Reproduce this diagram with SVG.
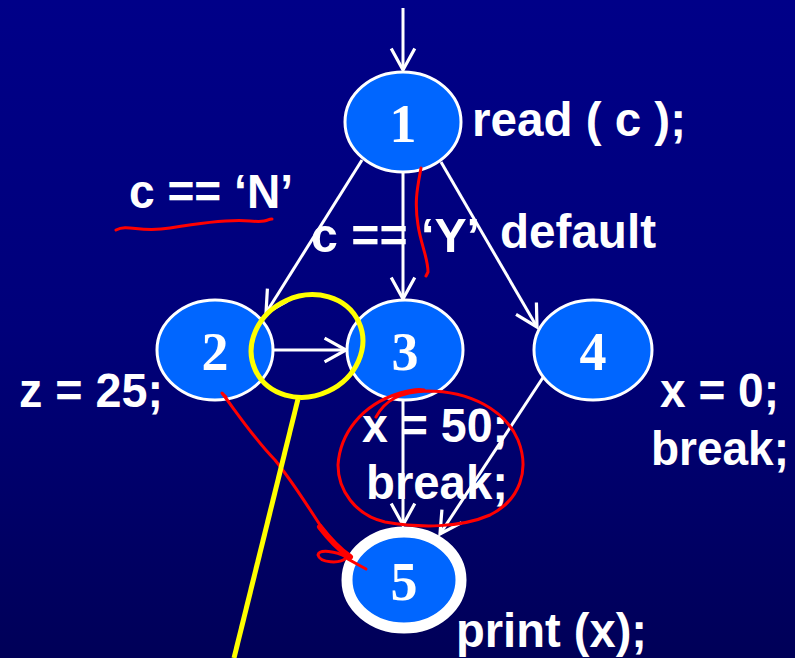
<svg xmlns="http://www.w3.org/2000/svg" width="795" height="658" viewBox="0 0 795 658">
<defs>
<linearGradient id="bg" x1="0" y1="0" x2="0" y2="1">
<stop offset="0" stop-color="#000088"/>
<stop offset="0.5" stop-color="#00007a"/>
<stop offset="1" stop-color="#000058"/>
</linearGradient>
<marker id="arr" markerUnits="userSpaceOnUse" markerWidth="30" markerHeight="30" viewBox="-24 -14 28 28" refX="0" refY="0" orient="auto">
<path d="M-20,-11 L0,0 L-20,11" fill="none" stroke="#ffffff" stroke-width="3"/>
</marker>
</defs>
<style>
.node{fill:#0066ff;stroke:#ffffff;stroke-width:3}
.node.thick{stroke-width:11}
.num{font-family:"Liberation Serif","Times New Roman",serif;font-weight:bold;font-size:54px;fill:#ffffff;text-anchor:middle}
.lbl{font-family:"Liberation Sans",Arial,sans-serif;font-weight:bold;font-size:48px;fill:#ffffff}
.edge{stroke:#ffffff;stroke-width:3;fill:none;marker-end:url(#arr)}
.red{stroke:#ff0000;stroke-width:3;fill:none;stroke-linecap:round;stroke-linejoin:round}
.yel{stroke:#ffff00;stroke-width:5;fill:none}
</style>
<rect x="0" y="0" width="795" height="658" fill="url(#bg)"/>

<g id="connectors">
<line class="edge" x1="403" y1="8" x2="403" y2="70"/>
<line class="edge" x1="362" y1="160" x2="266" y2="313"/>
<line class="edge" x1="403" y1="172" x2="403" y2="299"/>
<line class="edge" x1="441" y1="162" x2="537" y2="327"/>
<line class="edge" x1="274" y1="350" x2="346" y2="350"/>
<line class="edge" x1="403" y1="400" x2="403" y2="525"/>
<line class="edge" x1="544" y1="376" x2="440" y2="534"/>
</g>

<g id="node1">
<ellipse class="node" cx="403" cy="122" rx="58" ry="50"/>
<text class="num" x="403" y="142">1</text>
</g>
<g id="node2">
<ellipse class="node" cx="215" cy="350" rx="58" ry="50"/>
<text class="num" x="215" y="370">2</text>
</g>
<g id="node3">
<ellipse class="node" cx="405" cy="350" rx="58" ry="50"/>
<text class="num" x="405" y="370">3</text>
</g>
<g id="node4">
<ellipse class="node" cx="593" cy="350" rx="59" ry="50"/>
<text class="num" x="593" y="370">4</text>
</g>
<g id="node5">
<ellipse class="node thick" cx="404" cy="580" rx="57" ry="48"/>
<text class="num" x="404" y="600">5</text>
</g>

<g id="labels">
<text class="lbl" x="472" y="136" textLength="214" lengthAdjust="spacingAndGlyphs">read ( c );</text>
<text class="lbl" x="129" y="208" textLength="164" lengthAdjust="spacingAndGlyphs">c == ‘N’</text>
<text class="lbl" x="311" y="252" textLength="169" lengthAdjust="spacingAndGlyphs">c == ‘Y’</text>
<text class="lbl" x="500" y="248" textLength="156" lengthAdjust="spacingAndGlyphs">default</text>
<text class="lbl" x="19" y="407" textLength="144" lengthAdjust="spacingAndGlyphs">z = 25;</text>
<text class="lbl" x="362" y="442" textLength="146" lengthAdjust="spacingAndGlyphs">x = 50;</text>
<text class="lbl" x="366" y="499" textLength="142" lengthAdjust="spacingAndGlyphs">break;</text>
<text class="lbl" x="660" y="407" textLength="119" lengthAdjust="spacingAndGlyphs">x = 0;</text>
<text class="lbl" x="651" y="465" textLength="138" lengthAdjust="spacingAndGlyphs">break;</text>
<text class="lbl" x="456" y="647" textLength="191" lengthAdjust="spacingAndGlyphs">print (x);</text>
</g>

<g id="annotations">
<path class="red" d="M116,230 C128,224 140,233 170,228 S230,219 250,221 S266,219 272,219"/>
<path class="red" d="M421,168 C418,185 414,200 418,225 C421,245 428,258 428,272 L426,276"/>
<path class="red" d="M376,417 C385,400 400,392 427,391 C470,391 505,410 518,440 C530,470 520,500 490,515 C460,528 420,528 385,522 C355,515 338,490 338,465 C340,435 360,405 400,393 C410,390 420,389 424,390"/>
<path class="red" d="M226,397 L222,393 C235,410 255,440 275,460 C295,485 310,510 322,528"/>
<path class="red" style="stroke-width:6" d="M320,527 C330,540 340,550 350,557"/>
<path class="red" d="M346,557 C336,551 319,549 318,555 C320,563 340,564 346,558 L366,569"/>
<ellipse class="yel" cx="307" cy="346" rx="57" ry="50" transform="rotate(-25 307 346)"/>
<line class="yel" x1="298" y1="399" x2="234" y2="658"/>
</g>
</svg>
